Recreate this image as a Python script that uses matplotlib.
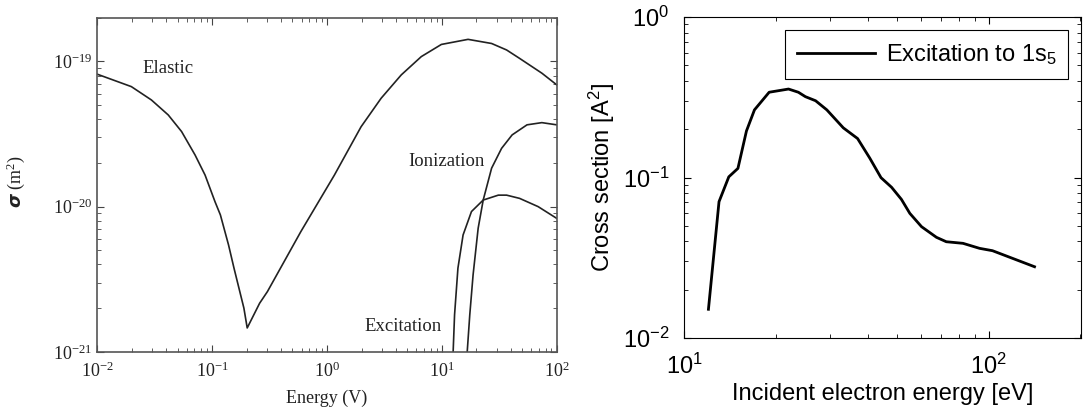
import matplotlib
matplotlib.use("Agg")
import matplotlib.pyplot as plt

# Left panel: argon cross sections (m^2) vs energy (V)
elastic_e = [0.01, 0.0198, 0.0296, 0.0415, 0.0542, 0.071, 0.0868, 0.106, 0.118,
             0.139, 0.155, 0.189, 0.202, 0.259, 0.303, 0.592, 1.16, 1.98, 2.96,
             4.43, 6.62, 9.9, 16.9, 27.1, 36.6, 47.5, 74.3, 100]
elastic_s = [8.17e-20, 6.71e-20, 5.43e-20, 4.28e-20, 3.29e-20, 2.27e-20, 1.65e-20,
             1.08e-20, 8.77e-21, 5.44e-21, 3.77e-21, 2.0e-21, 1.46e-21, 2.16e-21,
             2.6e-21, 6.73e-21, 1.65e-20, 3.55e-20, 5.58e-20, 8.08e-20, 1.08e-19,
             1.31e-19, 1.42e-19, 1.33e-19, 1.2e-19, 1.05e-19, 8.3e-20, 6.9e-20]
ion_e = [16.3, 17.5, 18.7, 20.7, 22.9, 27.1, 33.1, 40.9, 55.1, 74.2, 100]
ion_s = [8e-22, 1.8e-21, 3.39e-21, 7.1e-21, 1.11e-20, 1.84e-20, 2.52e-20,
         3.12e-20, 3.66e-20, 3.79e-20, 3.66e-20]
exc_e = [12.4, 12.9, 13.8, 15.3, 18.1, 22.9, 31, 36.6, 47.5, 68.9, 100]
exc_s = [8e-22, 1.8e-21, 3.77e-21, 6.38e-21, 9.25e-21, 1.11e-20, 1.2e-20,
         1.2e-20, 1.14e-20, 1.0e-20, 8.3e-21]

# Right panel: excitation to 1s5 (A^2) vs incident electron energy (eV)
e_1s5 = [12, 13, 14, 15, 16, 17, 19, 22, 23.7, 25, 27, 29.4, 33.3, 37.1, 40.7,
         44.3, 48, 51.7, 55.1, 60.2, 67.4, 72.6, 82.4, 93.4, 103, 141.6]
s_1s5 = [0.0151, 0.0707, 0.101, 0.114, 0.195, 0.264, 0.340, 0.356, 0.340, 0.319,
         0.301, 0.264, 0.204, 0.175, 0.132, 0.0998, 0.0869, 0.0731, 0.0598,
         0.0494, 0.0424, 0.0398, 0.0389, 0.0362, 0.035, 0.0278]

fig = plt.figure(figsize=(10.88, 4.16), dpi=100)

# ---- left panel (scanned textbook look, serif) ----
serif = "Liberation Serif"
ink = "#222222"
ax1 = fig.add_axes([0.0894, 0.1543, 0.4223, 0.803])
ax1.plot(elastic_e, elastic_s, color=ink, lw=1.2)
ax1.plot(ion_e, ion_s, color=ink, lw=1.2)
ax1.plot(exc_e, exc_s, color=ink, lw=1.2)
ax1.set_xscale("log")
ax1.set_yscale("log")
ax1.set_xlim(1e-2, 1e2)
ax1.set_ylim(1e-21, 2.0e-19)
ax1.set_yticks([1e-21, 1e-20, 1e-19])
ax1.tick_params(which="both", direction="in", top=True, right=True,
                colors="#444444", labelcolor=ink,
                labelfontfamily=serif, labelsize=13)
ax1.tick_params(axis="x", pad=7)
ax1.tick_params(which="major", length=5)
ax1.tick_params(which="minor", length=3)
for sp in ax1.spines.values():
    sp.set_color("#555555")
    sp.set_linewidth(1.2)
ax1.set_xlabel("Energy (V)", family=serif, fontsize=13, color=ink, labelpad=6)
ax1.set_ylabel(r"$\boldsymbol{\sigma}$ (m$\mathregular{^2}$)", family=serif,
               fontsize=13, color=ink)
ax1.yaxis.set_label_coords(-0.152, 0.51)
ax1.text(0.0415, 8.97e-20, "Elastic", family=serif, fontsize=13.5,
         ha="center", va="center", color=ink)
ax1.text(10.9, 2.04e-20, "Ionization", family=serif, fontsize=13.5,
         ha="center", va="center", color=ink)
ax1.text(4.58, 1.49e-21, "Excitation", family=serif, fontsize=13.5,
         ha="center", va="center", color=ink)

# ---- right panel (MATLAB look, sans) ----
sans = "Liberation Sans"
ax2 = fig.add_axes([0.629, 0.1875, 0.365, 0.7715])
ax2.plot(e_1s5, s_1s5, color="black", lw=2.0,
         label=r"Excitation to 1s$\mathregular{_5}$")
ax2.set_xscale("log")
ax2.set_yscale("log")
ax2.set_xlim(10, 202)
ax2.set_ylim(1e-2, 1)
ax2.set_xticks([10, 100])
ax2.set_yticks([1e-2, 1e-1, 1])
ax2.tick_params(which="both", direction="in", top=True, right=True,
                labelfontfamily=sans, labelsize=17, pad=11)
ax2.tick_params(which="major", length=5)
ax2.tick_params(which="minor", length=3)
for sp in ax2.spines.values():
    sp.set_linewidth(0.8)
ax2.set_xlabel("Incident electron energy [eV]", family=sans, fontsize=17,
               labelpad=3)
ax2.set_ylabel(r"Cross section [A$\mathregular{^2}$]", family=sans, fontsize=17)
leg = ax2.legend(loc="upper right", prop={"family": sans, "size": 17},
                 fancybox=False, edgecolor="black", framealpha=1,
                 handlelength=3.3, handletextpad=0.45, borderpad=0.5,
                 borderaxespad=0.55)
leg.get_frame().set_linewidth(0.8)

fig.savefig("out.png", dpi=100)
